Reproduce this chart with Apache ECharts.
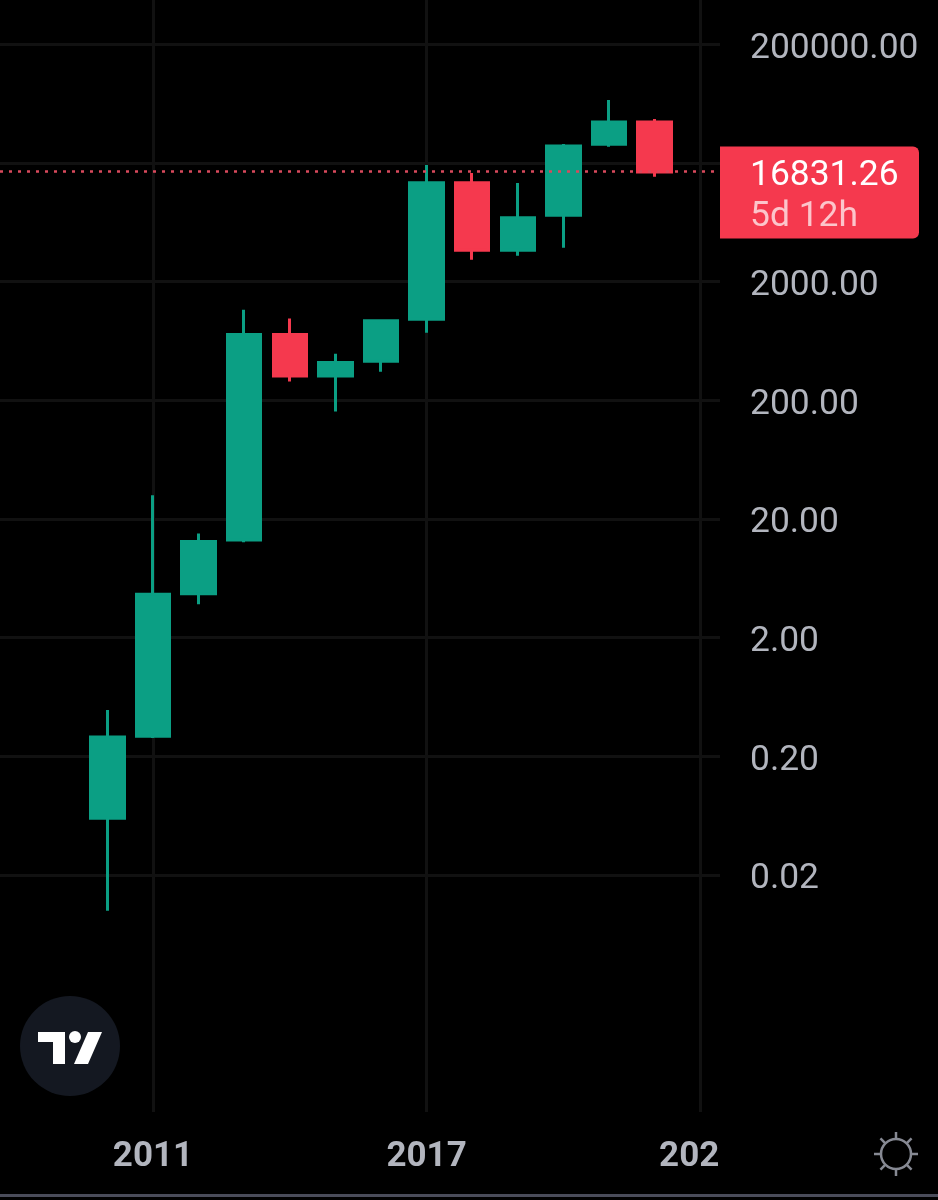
<!DOCTYPE html>
<html>
<head>
<meta charset="utf-8">
<title>Yearly candles</title>
<style>
  html, body { margin: 0; padding: 0; background: #000; }
  #chart { width: 938px; height: 1200px; }
</style>
<script src="https://cdn.jsdelivr.net/npm/echarts@6/dist/echarts.min.js"></script>
</head>
<body>
<div id="chart"></div>
<script>
// one candle per year
var years = [2010, 2011, 2012, 2013, 2014, 2015, 2016, 2017, 2018, 2019, 2020, 2021, 2022];
var opens = [0.06, 0.294, 4.69, 13.3, 716, 320, 428, 967, 13630, 3690, 7260, 28840, 44400];
var closes = [0.29, 4.64, 12.9, 716, 320, 416, 938, 13630, 3690, 6910, 27880, 44400, 16831.26];
var lows = [0.00996, 0.285, 3.82, 12.7, 288, 161, 349, 744, 3060, 3310, 3870, 27500, 15310];
var highs = [0.49, 31.6, 15.1, 1163, 977, 495, 960, 19300, 16540, 13620, 28950, 68100, 47100];
var xTicks = [2011, 2017, 2023];
var yTicks = [0.02, 0.2, 2, 20, 200, 2000, 20000, 200000];
var lastPrice = 16831.26;
var countdown = '5d 12h';

// the axis lines sit on 2 x 10^n, a plain log axis can't do that so the scale is log10(v / 2)
function toAxis(v) {
  return Math.log10(v / 2);
}

var candles = years.map(function (y, i) {
  return [y, toAxis(opens[i]), toAxis(closes[i]), toAxis(lows[i]), toAxis(highs[i])];
});

var GREEN = '#0b9f84';
var RED = '#f5394e';
var GRID = '#111111';
var TEXT = '#b2b5be';

var sunRays = [];
for (var a = 0; a < 8; a++) {
  var ang = a * Math.PI / 4;
  sunRays.push({
    type: 'line',
    shape: {
      x1: 896 + Math.cos(ang) * 15, y1: 1154 + Math.sin(ang) * 15,
      x2: 896 + Math.cos(ang) * 22, y2: 1154 + Math.sin(ang) * 22
    },
    style: { stroke: '#868993', lineWidth: 2.5 }
  });
}

var chart = echarts.init(document.getElementById('chart'));
chart.setOption({
  backgroundColor: '#000',
  animation: false,
  grid: { left: 0, top: 0, width: 720, height: 1112 },
  xAxis: {
    type: 'value',
    min: 2007.645,
    max: 2023.434,
    axisLine: { show: false },
    axisTick: { show: false, customValues: xTicks },
    axisLabel: {
      customValues: xTicks,
      // the last label is cut off by the price scale in the original
      formatter: function (v) { return v === 2023 ? '{cut|202}' : String(v); },
      rich: { cut: { color: TEXT, fontFamily: 'Roboto', fontWeight: 'bold', fontSize: 35, padding: [0, 22, 0, 0] } },
      color: TEXT,
      fontFamily: 'Roboto',
      fontWeight: 'bold',
      fontSize: 35,
      margin: 28,
      hideOverlap: false
    },
    splitLine: { show: true, lineStyle: { color: GRID, width: 3 } }
  },
  yAxis: {
    type: 'value',
    position: 'right',
    min: -4,
    max: 5.375,
    axisLine: { show: false },
    axisTick: { show: false, customValues: yTicks.map(toAxis) },
    axisLabel: {
      customValues: yTicks.map(toAxis),
      formatter: function (v) { return '{tick|' + (2 * Math.pow(10, v)).toFixed(2) + '}'; },
      rich: { tick: { color: TEXT, fontFamily: 'Roboto', fontSize: 35.4, padding: [9, 0, 0, 0] } },
      margin: 30
    },
    splitLine: { show: true, lineStyle: { color: GRID, width: 3 } }
  },
  series: [{
    type: 'candlestick',
    data: candles,
    barWidth: 34,
    silent: true,
    itemStyle: { color: GREEN, color0: RED, borderColor: GREEN, borderColor0: RED, borderWidth: 3 },
    markLine: {
      silent: true,
      symbol: 'none',
      animation: false,
      lineStyle: { color: '#d9495c', type: [3, 6], width: 2.5 },
      data: [{ yAxis: toAxis(lastPrice) }],
      label: {
        position: 'end',
        distance: 0,
        formatter: '{price|' + lastPrice.toFixed(2) + '}\n{left|' + countdown + '}',
        backgroundColor: RED,
        borderRadius: [0, 6, 6, 0],
        padding: [9, 0, 1, 30],
        width: 169,
        offset: [0, 21],
        rich: {
          price: { color: '#fff', fontFamily: 'Roboto', fontSize: 35.4, lineHeight: 41 },
          left: { color: '#fcc5cb', fontFamily: 'Roboto', fontSize: 35.4, lineHeight: 41 }
        }
      }
    }
  }],
  graphic: [
    { type: 'circle', shape: { cx: 70, cy: 1046, r: 50 }, style: { fill: '#141821' } },
    { type: 'polygon', shape: { points: [[38, 1032], [65, 1032], [65, 1064], [53, 1064], [53, 1042], [38, 1042]] }, style: { fill: '#fff' } },
    { type: 'circle', shape: { cx: 75, cy: 1037, r: 6 }, style: { fill: '#fff' } },
    { type: 'polygon', shape: { points: [[88, 1032], [102, 1032], [88, 1064], [74, 1064]] }, style: { fill: '#fff' } },
    { type: 'circle', shape: { cx: 896, cy: 1154, r: 15 }, style: { fill: 'none', stroke: '#868993', lineWidth: 2.5 } },
    { type: 'group', children: sunRays },
    { type: 'rect', shape: { x: 0, y: 1194, width: 938, height: 3 }, style: { fill: '#4a4c5a' } }
  ]
});
</script>
</body>
</html>
